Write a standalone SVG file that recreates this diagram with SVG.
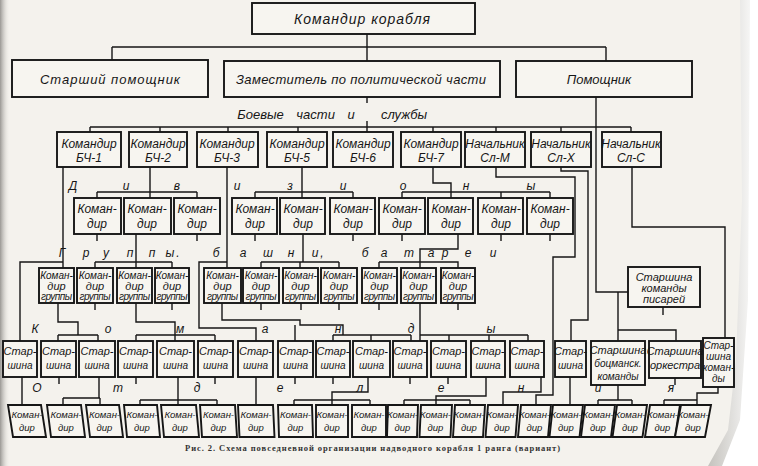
<svg xmlns="http://www.w3.org/2000/svg" width="758" height="466" viewBox="0 0 758 466">
<defs>
<linearGradient id="lg" x1="0" x2="1"><stop offset="0" stop-color="#9a9894"/><stop offset="1" stop-color="#f4f2ed" stop-opacity="0"/></linearGradient>
<linearGradient id="rg" x1="0" x2="1"><stop offset="0" stop-color="#c4c2bd"/><stop offset="1" stop-color="#ffffff"/></linearGradient>
</defs>
<style>
.bx{fill:#f7f5f0;stroke:#161616;stroke-width:1.9}
.ln{fill:none;stroke:#161616;stroke-width:1.4}
.t{font-family:"Liberation Sans","DejaVu Sans",sans-serif;font-style:italic;fill:#161616;text-anchor:middle}
.lt{font-family:"Liberation Sans","DejaVu Sans",sans-serif;font-style:italic;fill:#161616;text-anchor:middle;font-size:12px}
.f14{font-size:14px}.f13{font-size:13px}.f12{font-size:12px}.f11{font-size:11px}.f10{font-size:10px}.f9{font-size:9.5px}.f8{font-size:10px}
.cap{font-family:"Liberation Serif","DejaVu Serif",serif;font-weight:bold;font-size:8.5px;fill:#333}
</style>
<rect width="758" height="466" fill="#f4f2ed"/>
<rect width="10" height="466" fill="url(#lg)"/>
<polygon points="740,0 758,0 758,466 708,466 728,430 736,360 742,200" fill="url(#rg)"/>
<polygon points="750,0 758,0 758,466 722,466 740,420 748,300" fill="#ffffff"/>

<g id="connectors" class="ln">
<path d="M367,34 V61 M112,47 H606 M112,47 V60 M606,47 V61"/>
<path d="M367,97 V103 M367,121 V127 M90,127 H631 M90,127 V132 M160,127 V132 M228,127 V132 M298,127 V132 M367,127 V132 M433,127 V132 M496,127 V132 M561,127 V132 M631,127 V132"/>
<path d="M596,97 V292 H628 M618,292 V341 M618,330 H676 V341"/>
<path d="M632,167 V227 H725 V338"/>
<path d="M150,167 V198 M97,192 H197 M97,192 V198 M197,192 V198"/>
<path d="M302,167 V198 M255,192 H353 M255,192 V198 M353,192 V198"/>
<path d="M433,167 V183 H451 V198 M402,192 H550 M402,192 V198 M501,192 V198 M550,192 V198"/>
<path d="M496,167 V177 H575 V257 H553 V395 H536 V405"/>
<path d="M561,167 V171 H588 V320 H571 V341"/>
<path d="M63,167 V268 M63,262 H20 V341"/>
<path d="M227,167 V268 M227,262 H199 V328 H256 V341"/>
<path d="M97,234 V241 M197,234 V241 M255,234 V241 M353,234 V241 M402,234 V241 M501,234 V241 M550,234 V241"/>
<path d="M136,234 V268 M95,262 H172 M95,262 V268 M172,262 V268"/>
<path d="M303,234 V262 M261,262 H339 M261,262 V268 M300,262 V268 M339,262 V268"/>
<path d="M458,234 V249 H420 V268 M379,262 H458 V268 M379,262 V268"/>
<path d="M58,303 V322 H78 V335 M58,335 H98 M58,335 V341 M98,335 V341"/>
<path d="M95,303 V310 M172,303 V310 M261,303 V310 M301,303 V310 M339,303 V310 M379,303 V310 M458,303 V310"/>
<path d="M136,303 V322 H175 V341 M136,335 H215 M136,335 V341 M215,335 V341"/>
<path d="M222,303 V320 H300 V325 H343 V335 M333,335 H411 M333,335 V341 M371,335 V341 M411,335 V341 M295,325 V341"/>
<path d="M420,303 V341 M420,335 H528 M449,335 V341 M489,335 V341 M528,335 V341"/>
<path d="M663,307 V315"/>
<path d="M22,377 V405 M59,377 V384 M136,377 V384 M215,377 V384 M295,377 V384 M333,377 V384 M410,377 V384 M448,377 V384 M675,378 V385"/>
<path d="M99,377 V398 M63,398 H100 M63,398 V405 M100,398 V405"/>
<path d="M178,377 V405 M140,400 H217 M140,400 V405 M217,400 V405"/>
<path d="M256,377 V405"/>
<path d="M368,377 V392 H332 V405 M294,400 H370 M294,400 V405 M370,400 V405"/>
<path d="M486,377 V396 H436 V405 M404,400 H470 M404,400 V405 M470,400 V405"/>
<path d="M541,377 V392 H503 V405"/>
<path d="M570,377 V405"/>
<path d="M618,385 V400 M598,400 H632 M598,400 V405 M632,400 V405"/>
<path d="M718,387 V393 H697 V405 M664,400 H697 M664,400 V405"/>
</g>

<g id="n-kk"><rect class="bx" x="252" y="3" width="223" height="31"/><text class="t f14" x="362" y="24" textLength="136">Командир корабля</text></g>
<g id="n-sp"><rect class="bx" x="12" y="60" width="196" height="37"/><text class="t f13" x="110" y="84" textLength="140">Старший помощник</text></g>
<g id="n-zam"><rect class="bx" x="224" y="61" width="276" height="36"/><text class="t f13" x="361" y="84" textLength="250">Заместитель по политической части</text></g>
<g id="n-pom"><rect class="bx" x="516" y="61" width="176" height="36"/><text class="t f13" x="599" y="84">Помощник</text></g>

<g id="bch1"><rect class="bx" x="57" y="132" width="64" height="35"/><text class="t f12" x="89" y="148">Командир</text><text class="t f12" x="89" y="162">БЧ-1</text></g>
<g id="bch2"><rect class="bx" x="129" y="132" width="58" height="35"/><text class="t f12" x="158" y="148">Командир</text><text class="t f12" x="158" y="162">БЧ-2</text></g>
<g id="bch3"><rect class="bx" x="197" y="132" width="61" height="35"/><text class="t f12" x="227" y="148">Командир</text><text class="t f12" x="227" y="162">БЧ-3</text></g>
<g id="bch5"><rect class="bx" x="267" y="132" width="60" height="35"/><text class="t f12" x="297" y="148">Командир</text><text class="t f12" x="297" y="162">БЧ-5</text></g>
<g id="bch6"><rect class="bx" x="333" y="132" width="60" height="35"/><text class="t f12" x="363" y="148">Командир</text><text class="t f12" x="363" y="162">БЧ-6</text></g>
<g id="bch7"><rect class="bx" x="401" y="132" width="60" height="35"/><text class="t f12" x="431" y="148">Командир</text><text class="t f12" x="431" y="162">БЧ-7</text></g>
<g id="sl-m"><rect class="bx" x="465" y="132" width="60" height="35"/><text class="t f12" x="495" y="148">Начальник</text><text class="t f12" x="495" y="162">Сл-М</text></g>
<g id="sl-x"><rect class="bx" x="531" y="132" width="60" height="35"/><text class="t f12" x="561" y="148">Начальник</text><text class="t f12" x="561" y="162">Сл-Х</text></g>
<g id="sl-c"><rect class="bx" x="602" y="132" width="59" height="35"/><text class="t f12" x="631" y="148">Начальник</text><text class="t f12" x="631" y="162">Сл-С</text></g>

<g id="d1"><rect class="bx" x="74" y="198" width="47" height="36"/><text class="t f12" x="97" y="213">Коман-</text><text class="t f12" x="97" y="228">дир</text></g>
<g id="d2"><rect class="bx" x="124" y="198" width="47" height="36"/><text class="t f12" x="147" y="213">Коман-</text><text class="t f12" x="147" y="228">дир</text></g>
<g id="d3"><rect class="bx" x="174" y="198" width="46" height="36"/><text class="t f12" x="197" y="213">Коман-</text><text class="t f12" x="197" y="228">дир</text></g>
<g id="d4"><rect class="bx" x="232" y="198" width="45" height="36"/><text class="t f12" x="255" y="213">Коман-</text><text class="t f12" x="255" y="228">дир</text></g>
<g id="d5"><rect class="bx" x="280" y="198" width="45" height="36"/><text class="t f12" x="303" y="213">Коман-</text><text class="t f12" x="303" y="228">дир</text></g>
<g id="d6"><rect class="bx" x="330" y="198" width="45" height="36"/><text class="t f12" x="353" y="213">Коман-</text><text class="t f12" x="353" y="228">дир</text></g>
<g id="d7"><rect class="bx" x="379" y="198" width="46" height="36"/><text class="t f12" x="402" y="213">Коман-</text><text class="t f12" x="402" y="228">дир</text></g>
<g id="d8"><rect class="bx" x="428" y="198" width="45" height="36"/><text class="t f12" x="451" y="213">Коман-</text><text class="t f12" x="451" y="228">дир</text></g>
<g id="d9"><rect class="bx" x="478" y="198" width="45" height="36"/><text class="t f12" x="501" y="213">Коман-</text><text class="t f12" x="501" y="228">дир</text></g>
<g id="d10"><rect class="bx" x="527" y="198" width="46" height="36"/><text class="t f12" x="550" y="213">Коман-</text><text class="t f12" x="550" y="228">дир</text></g>

<g id="g1"><rect class="bx" x="39" y="268" width="35" height="35"/><text class="t f10" x="56.5" y="279">Коман-</text><text class="t f11" x="56.5" y="290">дир</text><text class="t f8" x="56.5" y="300" textLength="31">группы</text></g>
<g id="g2"><rect class="bx" x="77" y="268" width="36" height="35"/><text class="t f10" x="95" y="279">Коман-</text><text class="t f11" x="95" y="290">дир</text><text class="t f8" x="95" y="300" textLength="31">группы</text></g>
<g id="g3"><rect class="bx" x="117" y="268" width="35" height="35"/><text class="t f10" x="134.5" y="279">Коман-</text><text class="t f11" x="134.5" y="290">дир</text><text class="t f8" x="134.5" y="300" textLength="31">группы</text></g>
<g id="g4"><rect class="bx" x="155" y="268" width="34" height="35"/><text class="t f10" x="172" y="279">Коман-</text><text class="t f11" x="172" y="290">дир</text><text class="t f8" x="172" y="300" textLength="31">группы</text></g>
<g id="g5"><rect class="bx" x="204" y="268" width="37" height="35"/><text class="t f10" x="222.5" y="279">Коман-</text><text class="t f11" x="222.5" y="290">дир</text><text class="t f8" x="222.5" y="300" textLength="31">группы</text></g>
<g id="g6"><rect class="bx" x="243" y="268" width="36" height="35"/><text class="t f10" x="261" y="279">Коман-</text><text class="t f11" x="261" y="290">дир</text><text class="t f8" x="261" y="300" textLength="31">группы</text></g>
<g id="g7"><rect class="bx" x="283" y="268" width="35" height="35"/><text class="t f10" x="300.5" y="279">Коман-</text><text class="t f11" x="300.5" y="290">дир</text><text class="t f8" x="300.5" y="300" textLength="31">группы</text></g>
<g id="g8"><rect class="bx" x="321" y="268" width="36" height="35"/><text class="t f10" x="339" y="279">Коман-</text><text class="t f11" x="339" y="290">дир</text><text class="t f8" x="339" y="300" textLength="31">группы</text></g>
<g id="g9"><rect class="bx" x="362" y="268" width="35" height="35"/><text class="t f10" x="379.5" y="279">Коман-</text><text class="t f11" x="379.5" y="290">дир</text><text class="t f8" x="379.5" y="300" textLength="31">группы</text></g>
<g id="g10"><rect class="bx" x="401" y="268" width="35" height="35"/><text class="t f10" x="418.5" y="279">Коман-</text><text class="t f11" x="418.5" y="290">дир</text><text class="t f8" x="418.5" y="300" textLength="31">группы</text></g>
<g id="g11"><rect class="bx" x="441" y="268" width="34" height="35"/><text class="t f10" x="458" y="279">Коман-</text><text class="t f11" x="458" y="290">дир</text><text class="t f8" x="458" y="300" textLength="31">группы</text></g>

<g id="pis"><rect class="bx" x="628" y="267" width="72" height="40"/><text class="t f11" x="664" y="281">Старшина</text><text class="t f11" x="664" y="292">команды</text><text class="t f11" x="664" y="303">писарей</text></g>

<g id="s1"><rect class="bx" x="3" y="341" width="34" height="36"/><text class="t f11" x="20" y="355">Стар-</text><text class="t f10" x="20" y="369">шина</text></g>
<g id="s2"><rect class="bx" x="41" y="341" width="35" height="36"/><text class="t f11" x="58.5" y="355">Стар-</text><text class="t f10" x="58.5" y="369">шина</text></g>
<g id="s3"><rect class="bx" x="79" y="341" width="36" height="36"/><text class="t f11" x="97" y="355">Стар-</text><text class="t f10" x="97" y="369">шина</text></g>
<g id="s4"><rect class="bx" x="118" y="341" width="35" height="36"/><text class="t f11" x="135.5" y="355">Стар-</text><text class="t f10" x="135.5" y="369">шина</text></g>
<g id="s5"><rect class="bx" x="157" y="341" width="37" height="36"/><text class="t f11" x="175.5" y="355">Стар-</text><text class="t f10" x="175.5" y="369">шина</text></g>
<g id="s6"><rect class="bx" x="198" y="341" width="35" height="36"/><text class="t f11" x="215.5" y="355">Стар-</text><text class="t f10" x="215.5" y="369">шина</text></g>
<g id="s7"><rect class="bx" x="238" y="341" width="35" height="36"/><text class="t f11" x="255.5" y="355">Стар-</text><text class="t f10" x="255.5" y="369">шина</text></g>
<g id="s8"><rect class="bx" x="278" y="341" width="35" height="36"/><text class="t f11" x="295.5" y="355">Стар-</text><text class="t f10" x="295.5" y="369">шина</text></g>
<g id="s9"><rect class="bx" x="316" y="341" width="34" height="36"/><text class="t f11" x="333" y="355">Стар-</text><text class="t f10" x="333" y="369">шина</text></g>
<g id="s10"><rect class="bx" x="353" y="341" width="37" height="36"/><text class="t f11" x="371.5" y="355">Стар-</text><text class="t f10" x="371.5" y="369">шина</text></g>
<g id="s11"><rect class="bx" x="393" y="341" width="34" height="36"/><text class="t f11" x="410" y="355">Стар-</text><text class="t f10" x="410" y="369">шина</text></g>
<g id="s12"><rect class="bx" x="431" y="341" width="35" height="36"/><text class="t f11" x="448.5" y="355">Стар-</text><text class="t f10" x="448.5" y="369">шина</text></g>
<g id="s13"><rect class="bx" x="471" y="341" width="34" height="36"/><text class="t f11" x="488" y="355">Стар-</text><text class="t f10" x="488" y="369">шина</text></g>
<g id="s14"><rect class="bx" x="510" y="341" width="34" height="36"/><text class="t f11" x="527" y="355">Стар-</text><text class="t f10" x="527" y="369">шина</text></g>
<g id="s15"><rect class="bx" x="555" y="341" width="31" height="36"/><text class="t f11" x="570.5" y="355">Стар-</text><text class="t f10" x="570.5" y="369">шина</text></g>
<g id="s16"><rect class="bx" x="591" y="341" width="54" height="44"/><text class="t f11" x="618" y="354">Старшина</text><text class="t f10" x="618" y="367">боцманск.</text><text class="t f10" x="618" y="380">команды</text></g>
<g id="s17"><rect class="bx" x="649" y="341" width="52" height="37"/><text class="t f11" x="675" y="355">Старшина</text><text class="t f11" x="675" y="369">оркестра</text></g>
<g id="s18"><rect class="bx" x="703" y="338" width="31" height="49"/><text class="t f10" x="718.5" y="349">Стар-</text><text class="t f10" x="718.5" y="360">шина</text><text class="t f10" x="718.5" y="371">коман-</text><text class="t f10" x="718.5" y="382">ды</text></g>

<g id="c1"><polygon class="bx" points="8,405 41,405 46,437 13,437"/><text class="t f9" x="27" y="418">Коман-</text><text class="t f9" x="27" y="431">дир</text></g>
<g id="c2"><polygon class="bx" points="47,405 81,405 85,437 51,437"/><text class="t f9" x="66" y="418">Коман-</text><text class="t f9" x="66" y="431">дир</text></g>
<g id="c3"><polygon class="bx" points="86,405 119,405 123,437 90,437"/><text class="t f9" x="104.5" y="418">Коман-</text><text class="t f9" x="104.5" y="431">дир</text></g>
<g id="c4"><polygon class="bx" points="124,405 157,405 160,437 127,437"/><text class="t f9" x="142" y="418">Коман-</text><text class="t f9" x="142" y="431">дир</text></g>
<g id="c5"><polygon class="bx" points="161,405 196,405 199,437 164,437"/><text class="t f9" x="180" y="418">Коман-</text><text class="t f9" x="180" y="431">дир</text></g>
<g id="c6"><polygon class="bx" points="200,405 235,405 237,437 202,437"/><text class="t f9" x="218.5" y="418">Коман-</text><text class="t f9" x="218.5" y="431">дир</text></g>
<g id="c7"><polygon class="bx" points="238,405 273,405 274.5,437 239.5,437"/><text class="t f9" x="256" y="418">Коман-</text><text class="t f9" x="256" y="431">дир</text></g>
<g id="c8"><polygon class="bx" points="278,405 312,405 313,437 279,437"/><text class="t f9" x="295.5" y="418">Коман-</text><text class="t f9" x="295.5" y="431">дир</text></g>
<g id="c9"><polygon class="bx" points="316,405 348,405 348,437 316,437"/><text class="t f9" x="332" y="418">Коман-</text><text class="t f9" x="332" y="431">дир</text></g>
<g id="c10"><polygon class="bx" points="352,405 386,405 386,437 352,437"/><text class="t f9" x="369" y="418">Коман-</text><text class="t f9" x="369" y="431">дир</text></g>
<g id="c11"><polygon class="bx" points="388,405 418,405 417,437 387,437"/><text class="t f9" x="402.5" y="418">Коман-</text><text class="t f9" x="402.5" y="431">дир</text></g>
<g id="c12"><polygon class="bx" points="421,405 452,405 450.5,437 419.5,437"/><text class="t f9" x="435.5" y="418">Коман-</text><text class="t f9" x="435.5" y="431">дир</text></g>
<g id="c13"><polygon class="bx" points="455,405 485,405 483,437 453,437"/><text class="t f9" x="469" y="418">Коман-</text><text class="t f9" x="469" y="431">дир</text></g>
<g id="c14"><polygon class="bx" points="488,405 518,405 515.5,437 485.5,437"/><text class="t f9" x="502" y="418">Коман-</text><text class="t f9" x="502" y="431">дир</text></g>
<g id="c15"><polygon class="bx" points="521,405 551,405 548,437 518,437"/><text class="t f9" x="534.5" y="418">Коман-</text><text class="t f9" x="534.5" y="431">дир</text></g>
<g id="c16"><polygon class="bx" points="553,405 583,405 579.5,437 549.5,437"/><text class="t f9" x="566" y="418">Коман-</text><text class="t f9" x="566" y="431">дир</text></g>
<g id="c17"><polygon class="bx" points="585,405 615,405 611,437 581,437"/><text class="t f9" x="598" y="418">Коман-</text><text class="t f9" x="598" y="431">дир</text></g>
<g id="c18"><polygon class="bx" points="617,405 647,405 642.5,437 612.5,437"/><text class="t f9" x="630" y="418">Коман-</text><text class="t f9" x="630" y="431">дир</text></g>
<g id="c19"><polygon class="bx" points="650,405 680,405 675,437 645,437"/><text class="t f9" x="662.5" y="418">Коман-</text><text class="t f9" x="662.5" y="431">дир</text></g>
<g id="c20"><polygon class="bx" points="681,405 711,405 705,437 675,437"/><text class="t f9" x="693" y="418">Коман-</text><text class="t f9" x="693" y="431">дир</text></g>

<g id="labels">
<text class="lt" x="296" y="119" style="font-size:13px;word-spacing:9px">Боевые части и</text>
<text class="lt" x="404" y="119" style="font-size:13px">службы</text>
<text class="lt" x="73" y="190">Д</text><text class="lt" x="126" y="190">и</text><text class="lt" x="177" y="190">в</text><text class="lt" x="237" y="190">и</text><text class="lt" x="290" y="190">з</text><text class="lt" x="343" y="190">и</text><text class="lt" x="403" y="190">о</text><text class="lt" x="466" y="190">н</text><text class="lt" x="531" y="190">ы</text>
<text class="lt" x="62" y="257">Г</text><text class="lt" x="86" y="257">р</text><text class="lt" x="106" y="257">у</text><text class="lt" x="130" y="257">п</text><text class="lt" x="152" y="257">п</text><text class="lt" x="170" y="257">ы</text><text class="lt" x="178" y="257">.</text>
<text class="lt" x="216" y="257">б</text><text class="lt" x="243" y="257">а</text><text class="lt" x="268" y="257">ш</text><text class="lt" x="291" y="257">н</text><text class="lt" x="315" y="257">и</text><text class="lt" x="322" y="257">,</text>
<text class="lt" x="365" y="257">б</text><text class="lt" x="384" y="257">а</text><text class="lt" x="409" y="257">т</text><text class="lt" x="431" y="257">а</text><text class="lt" x="445" y="257">р</text><text class="lt" x="468" y="257">е</text><text class="lt" x="493" y="257">и</text>
<text class="lt" x="35" y="333">К</text><text class="lt" x="108" y="333">о</text><text class="lt" x="180" y="333">м</text><text class="lt" x="265" y="333">а</text><text class="lt" x="338" y="333">н</text><text class="lt" x="411" y="333">д</text><text class="lt" x="491" y="333">ы</text>
<text class="lt" x="37" y="392">О</text><text class="lt" x="118" y="392">т</text><text class="lt" x="197" y="392">д</text><text class="lt" x="280" y="392">е</text><text class="lt" x="360" y="392">л</text><text class="lt" x="441" y="392">е</text><text class="lt" x="521" y="392">н</text><text class="lt" x="598" y="392">и</text><text class="lt" x="671" y="392">я</text>
</g>
<text class="cap" x="185" y="451" textLength="375">Рис. 2. Схема повседневной организации надводного корабля 1 ранга (вариант)</text>
</svg>
